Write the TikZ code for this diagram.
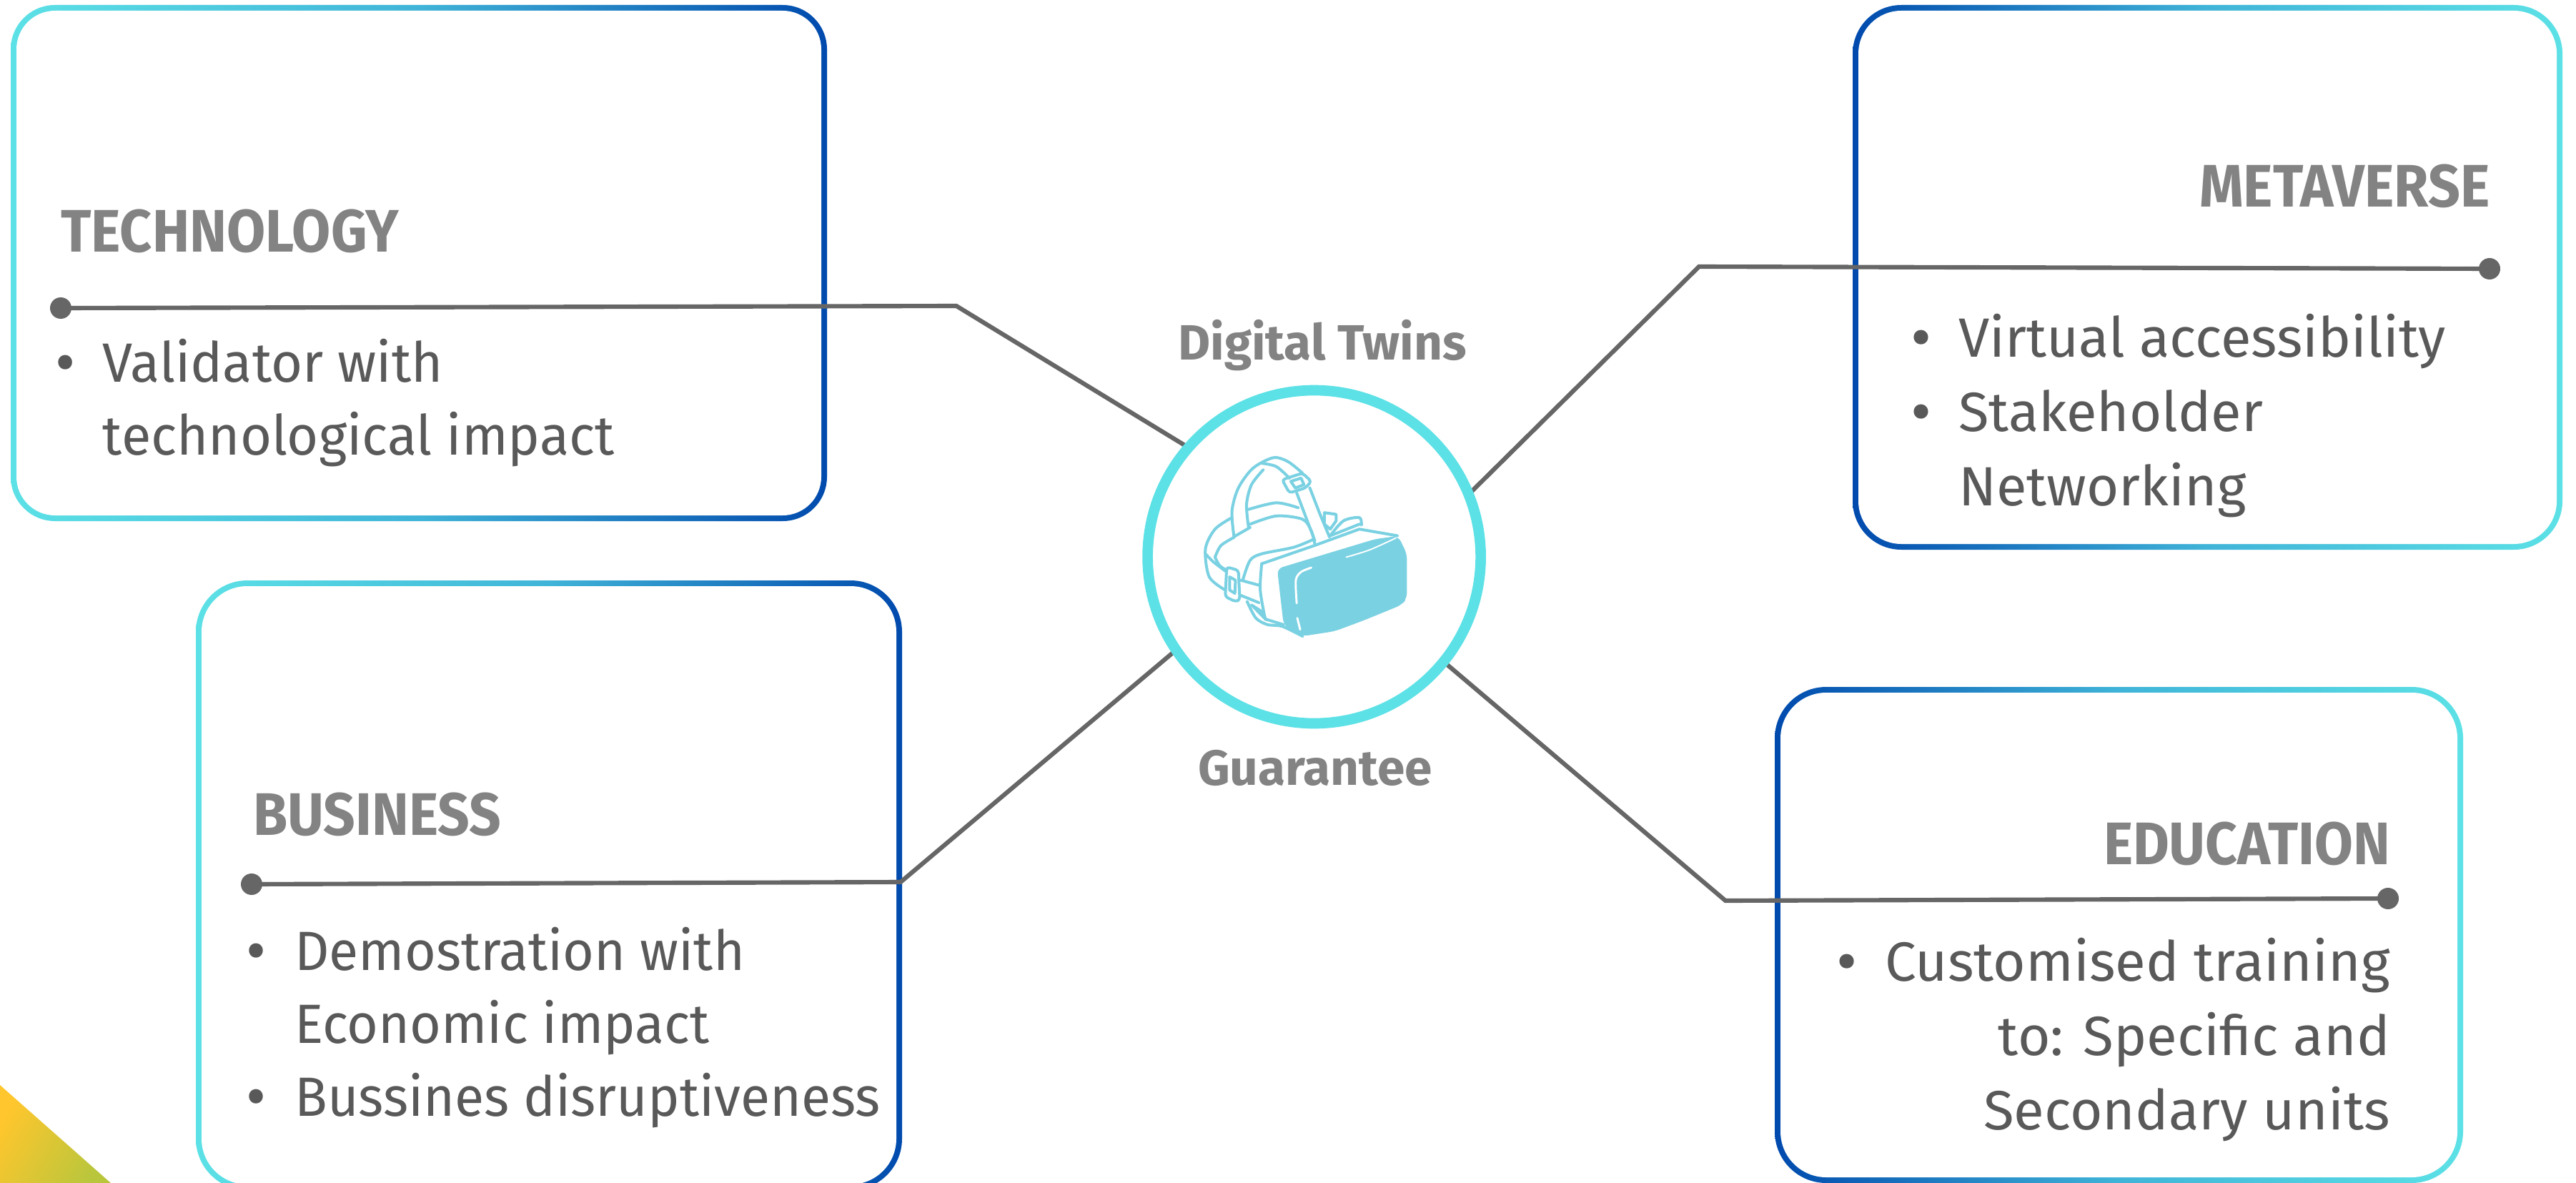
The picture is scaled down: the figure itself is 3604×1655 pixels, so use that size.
\documentclass[tikz,border=0pt]{standalone}
\usepackage{graphicx}
\usepackage{fontspec}
\setmainfont{Fira Sans}
\usetikzlibrary{calc}
\definecolor{cyn}{HTML}{5CE1E6}
\definecolor{blu}{HTML}{004AAD}
\definecolor{mid}{HTML}{40B4D8}
\definecolor{lnc}{HTML}{666666}
\definecolor{txc}{HTML}{595959}
\definecolor{hdc}{HTML}{838383}
\definecolor{vrc}{HTML}{7AD1E2}
\definecolor{tyl}{HTML}{FFC62D}
\definecolor{tgr}{HTML}{B9C63C}
\tikzset{
  linkline/.style={draw=lnc,line width=4.6pt},
  enddot/.style={circle,fill=lnc,inner sep=0pt,minimum size=22.5pt,outer sep=0pt},
  headtext/.style={text=hdc,inner sep=0pt,font=\fontsize{63}{76}\selectfont\bfseries},
  centertext/.style={text=hdc,inner sep=0pt,font=\fontsize{52}{60}\selectfont\bfseries},
  bodytext/.style={text=txc,inner sep=0pt,font=\fontsize{58}{76.5}\selectfont},
  bodytextwide/.style={text=txc,inner sep=0pt,font=\fontsize{58}{78.2}\selectfont},
  vrline/.style={draw=vrc,line width=3pt,line join=round,line cap=round},
}
\newcommand\gbox[9]{%
  \node[rectangle,rounded corners=#9*0.75pt,left color=#6,right color=#7,middle color=#8,outer sep=0pt,inner sep=0pt,
    minimum width={(#4-#2)*0.75pt},minimum height={(#5-#3)*0.75pt}] (#1o) at ({(#2+#4)/2},{(#3+#5)/2}) {};
  \node[rectangle,rounded corners=(#9-8)*0.75pt,fill=white,outer sep=0pt,inner sep=0pt,
    minimum width={(#4-#2-16)*0.75pt},minimum height={(#5-#3-16)*0.75pt}] (#1i) at ({(#2+#4)/2},{(#3+#5)/2}) {};
}
\newcommand\bul[1]{\makebox[#1][l]{\raisebox{-2.5pt}{\scalebox{1.15}{•}}}}
\begin{document}
\begin{tikzpicture}[x=0.75pt,y=-0.75pt]
\useasboundingbox (0,0) rectangle (3604,1655);
\fill[white] (0,0) rectangle (3604,1655);
% corner triangle
\shade[left color=tyl,right color=tgr,shading angle=60] (0,1518) -- (155,1655) -- (0,1655) -- cycle;
% boxes
\begin{scope}
\clip (0,0) rectangle (3604,1655);
\gbox{tech}{15}{7}{1157}{729}{cyn}{blu}{mid}{62}
\gbox{busi}{274}{812}{1262}{1665}{cyn}{blu}{mid}{72}
\gbox{meta}{2592}{7}{3585}{769}{blu}{cyn}{mid}{68}
\gbox{educ}{2483}{961}{3446}{1655}{blu}{cyn}{mid}{72}
\end{scope}
% hub
\node[circle,draw=none,minimum size=349.5pt,inner sep=0pt,outer sep=0pt] (hub) at (1838.6,779) {};
% end dots and bends
\node[enddot] (dtech) at (85,431) {};
\node[enddot] (dbusi) at (352,1237) {};
\node[enddot] (dmeta) at (3483,376) {};
\node[enddot] (deduc) at (3341,1257) {};
\coordinate (btech) at (1338,428);
\coordinate (bbusi) at (1260,1234);
\coordinate (bmeta) at (2377,373);
\coordinate (beduc) at (2414,1260);
\draw[linkline] (dtech.center) -- (btech) -- (hub.139);
\draw[linkline] (dbusi.center) -- (bbusi) -- (hub.214.6);
\draw[linkline] (dmeta.center) -- (bmeta) -- (hub.22.4);
\draw[linkline] (deduc.center) -- (beduc) -- (hub.321);
\node[circle,draw=cyn,fill=white,line width=11pt,minimum size=349.5pt,inner sep=0pt,outer sep=0pt] (hubring) at (hub.center) {};
% headset icon, drawn in crop coordinates
\begin{scope}[shift={(1500,420)},x=0.306pt,y=-0.3456pt]
\fill[vrc,rounded corners=6pt] (703,815) -- (1040,725) -- (1118,716) -- (1148,770) -- (1148,905) -- (1130,925) -- (1000,972) -- (900,1005) -- (790,1020) -- (745,1000) -- (725,985) -- cycle;
\draw[draw=white,line width=2.2pt,line cap=round] plot[smooth] coordinates {(770,920) (767,850) (785,825) (820,812)};
\draw[draw=white,line width=2.2pt,line cap=round] (772,965) -- (782,1000);
\draw[draw=white,line width=1.4pt,line cap=round] plot[smooth] coordinates {(940,780) (1020,758) (1110,722)};
\draw[vrline] plot[smooth] coordinates {(555,718) (548,640) (570,570) (620,510) (690,478) (740,490) (790,525)};
\draw[vrline] plot[smooth] coordinates {(605,690) (598,620) (615,560) (655,515)};
\draw[vrline] plot[smooth] coordinates {(650,495) (700,505) (745,540)};
\draw[vrline] (555,718) -- (610,690);
\draw[vrline,rounded corners=3pt] (720,545) -- (790,525) -- (820,550) -- (800,570) -- (745,585) -- cycle;
\draw[vrline] (750,550) -- (785,540) -- (795,560) -- (765,570) -- cycle;
\draw[vrline] (770,585) -- (832,730);
\draw[vrline] (815,570) -- (850,650) -- (882,718);
\draw[vrline] plot[smooth] coordinates {(605,635) (700,615) (775,630)};
\draw[vrline] plot[smooth] coordinates {(610,680) (700,655) (790,665) (820,700) (832,740)};
\draw[vrline] plot[smooth] coordinates {(548,660) (490,695) (457,755) (470,840) (525,880)};
\draw[vrline] plot[smooth] coordinates {(555,720) (510,745) (490,780)};
\draw[vrline] plot[smooth] coordinates {(457,770) (485,795) (530,825)};
\draw[vrline] plot[smooth] coordinates {(490,780) (505,805) (530,820)};
\draw[vrline,rounded corners=3pt] (530,810) -- (570,820) -- (575,910) -- (560,915) -- (525,900) -- cycle;
\draw[vrline] (540,840) -- (560,850) -- (558,890) -- (540,880) -- cycle;
\draw[vrline] (578,850) -- (640,865);
\draw[vrline] (575,895) -- (640,918);
\draw[vrline] plot[smooth] coordinates {(585,850) (610,790) (650,770) (760,750) (830,725)};
\draw[vrline] plot[smooth] coordinates {(650,800) (645,880) (662,968)};
\draw[vrline] (650,800) -- (830,745) -- (985,695) -- (1115,715);
\draw[vrline] plot[smooth] coordinates {(600,915) (630,965) (670,985) (720,990) (790,1020)};
\draw[vrline] (615,925) -- (650,945) -- (665,970) -- cycle;
\draw[vrline] (662,968) -- (725,985);
\draw[vrline] plot[smooth] coordinates {(882,718) (930,670) (985,660) (992,682)};
\draw[vrline] (865,645) -- (905,650) -- (905,670) -- (885,695) -- (865,680) -- cycle;
\draw[vrline] (885,715) -- (985,680);
\end{scope}
% centre labels
\node[centertext,anchor=base] (ldt) at (1850,503) {Digital Twins};
\node[centertext,anchor=base] (lgu) at (1840,1098) {Guarantee};
% headings
\node[headtext,anchor=base west] (htech) at (85,352) {\scalebox{0.935}[1]{TECHNOLOGY}};
\node[headtext,anchor=base west] (hbusi) at (354,1168) {\scalebox{0.93}[1]{BUSINESS}};
\node[headtext,anchor=base east] (hmeta) at (3484,290) {\scalebox{0.935}[1]{METAVERSE}};
\node[headtext,anchor=base east] (heduc) at (3344,1209) {\scalebox{0.93}[1]{EDUCATION}};
% bullets
\node[bodytext,anchor=base west] (ttech) at (77,534) {\scalebox{0.978}[1]{\begin{tabular}[t]{@{}l@{}l@{}}\bul{51pt}&Validator with\\&technological impact\end{tabular}}};
\node[bodytext,anchor=base west] (tbusi) at (344,1357) {\scalebox{0.972}[1]{\begin{tabular}[t]{@{}l@{}l@{}}\bul{52.6pt}&Demostration with\\&Economic impact\\\bul{52.6pt}&Bussines disruptiveness\end{tabular}}};
\node[bodytextwide,anchor=base west] (tmeta) at (2673,499) {\scalebox{1.005}[1]{\begin{tabular}[t]{@{}l@{}l@{}}\bul{50pt}&Virtual accessibility\\\bul{50pt}&Stakeholder\\&Networking\end{tabular}}};
\node[bodytextwide,anchor=base east] (teduc) at (3344,1372) {\scalebox{1.01}[1]{\begin{tabular}[t]{@{}r@{}}\bul{50pt}Customised training\\to: Specific and\\Secondary units\end{tabular}}};
\end{tikzpicture}
\end{document}
